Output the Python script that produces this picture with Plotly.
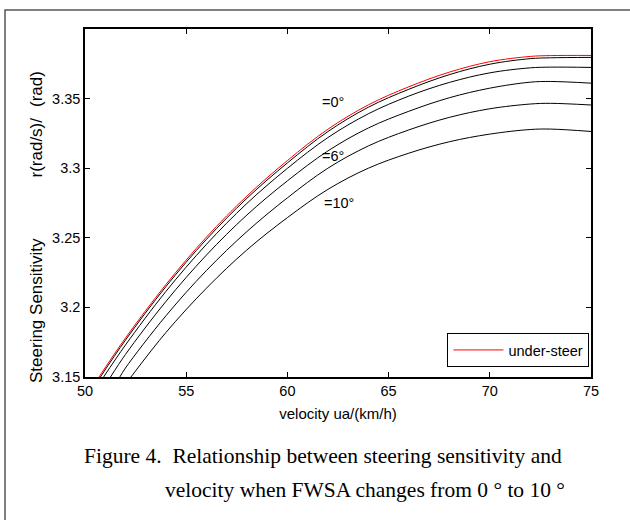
import plotly.graph_objects as go

# ---- data ----
red_x = [50.69, 52, 54, 56, 58, 60, 62, 64, 66, 68, 70, 72, 73, 75]
red_y = [3.150, 3.178, 3.2165, 3.2505, 3.280, 3.3055, 3.328, 3.3455, 3.3585, 3.369, 3.3765, 3.3803, 3.3809, 3.381]

b1_x = [50.76, 52, 54, 56, 58, 60, 62, 64, 66, 68, 70, 72, 73, 75]
b1_y = [3.150, 3.1765, 3.2150, 3.2489, 3.2784, 3.3038, 3.3263, 3.3438, 3.3567, 3.3672, 3.3747, 3.3787, 3.3793, 3.3796]

b2_x = [50.92, 52, 54, 56, 58, 60, 62, 64, 66, 68, 70, 72, 73, 75]
b2_y = [3.150, 3.1730, 3.2115, 3.2453, 3.2747, 3.2999, 3.3220, 3.3391, 3.3518, 3.3616, 3.3685, 3.3721, 3.3726, 3.3724]

b3_x = [51.26, 52, 54, 56, 58, 60, 62, 64, 66, 68, 70, 72, 73, 75]
b3_y = [3.150, 3.1662, 3.2043, 3.2376, 3.2664, 3.2909, 3.3124, 3.3289, 3.3409, 3.3506, 3.3575, 3.3618, 3.3623, 3.3611]

b4_x = [51.72, 52, 54, 56, 58, 60, 62, 64, 66, 68, 70, 72, 73, 75]
b4_y = [3.150, 3.1565, 3.1940, 3.2265, 3.2545, 3.2787, 3.3000, 3.3160, 3.3275, 3.3365, 3.3427, 3.3461, 3.3466, 3.3454]

b5_x = [52.27, 54, 56, 58, 60, 62, 64, 66, 68, 70, 72, 73, 75]
b5_y = [3.150, 3.1820, 3.2138, 3.2413, 3.2645, 3.2848, 3.3000, 3.3108, 3.3190, 3.3245, 3.3278, 3.3281, 3.3264]

x_ticks = [50, 55, 60, 65, 70, 75]
y_ticks = [3.15, 3.2, 3.25, 3.3, 3.35]
y_tick_text = ["3.15", "3.2", "3.25", "3.3", "3.35"]

curve_labels = ["=0°", "=6°", "=10°"]
label_x = [62.24, 62.27, 62.54]
label_y = [3.3473, 3.3087, 3.2752]

legend_name = "under-steer"
x_title = "velocity ua/(km/h)"
y_title_parts = ["Steering Sensitivity", "r(rad/s)/", "(rad)"]
caption1 = "Figure 4.\u00a0\u00a0Relationship between steering sensitivity and"
caption2 = "velocity when FWSA changes from 0 ° to 10 °"

W, H = 630, 520
ML, MR, MT, MB = 85, 39, 29, 143
PW, PH = W - ML - MR, H - MT - MB


def px(xp):
    return (xp - ML) / PW


def py(yp):
    return (H - MB - yp) / PH


fig = go.Figure()
for xs, ys in [(b1_x, b1_y), (b2_x, b2_y), (b3_x, b3_y), (b4_x, b4_y), (b5_x, b5_y)]:
    fig.add_trace(go.Scatter(x=xs, y=ys, mode="lines", line=dict(color="black", width=1, shape="spline"),
                             showlegend=False, hoverinfo="skip"))
fig.add_trace(go.Scatter(x=red_x, y=red_y, mode="lines", name=legend_name,
                         line=dict(color="red", width=1, shape="spline")))

SANS = "Liberation Sans, Arial, sans-serif"
SERIF = "Liberation Serif, Times New Roman, serif"
font_ax = dict(family=SANS, size=14.5, color="black")

annotations = []
for t, xx, yy in zip(curve_labels, label_x, label_y):
    annotations.append(dict(x=xx, y=yy, xref="x", yref="y", text=t, showarrow=False,
                            font=font_ax, xanchor="center", yanchor="middle"))
for t, yc in zip(y_title_parts, [311, 147.5, 89]):
    annotations.append(dict(x=px(36), y=py(yc), xref="paper", yref="paper", text=t, textangle=-90,
                            showarrow=False, font=dict(family=SANS, size=17, color="black"),
                            xanchor="center", yanchor="middle"))
annotations.append(dict(x=px(82), y=py(456), xref="paper", yref="paper", text=caption1, showarrow=False,
                        font=dict(family=SERIF, size=21.5, color="black"),
                        xanchor="left", yanchor="middle"))
annotations.append(dict(x=px(163), y=py(490), xref="paper", yref="paper", text=caption2, showarrow=False,
                        font=dict(family=SERIF, size=21.5, color="black"),
                        xanchor="left", yanchor="middle"))

shapes = [dict(type="rect", xref="paper", yref="paper", x0=px(5), x1=px(645), y0=py(535), y1=py(10),
               line=dict(color="#555555", width=1.5), layer="below")]

fig.update_layout(
    width=W, height=H,
    margin=dict(l=ML, r=MR, t=MT, b=MB, pad=0),
    paper_bgcolor="white", plot_bgcolor="white",
    font=font_ax,
    showlegend=True,
    legend=dict(x=0.997, y=py(333), xanchor="right", yanchor="top", bgcolor="white",
                bordercolor="black", borderwidth=1, font=font_ax, itemwidth=50),
    annotations=annotations,
    shapes=shapes,
    xaxis=dict(range=[50, 75], tickvals=x_ticks, ticks="inside", ticklen=5, tickcolor="black",
               showline=True, linecolor="black", linewidth=1.5, mirror="ticks", showgrid=False,
               zeroline=False, tickfont=font_ax,
               title=dict(text=x_title, font=dict(family=SANS, size=15, color="black"), standoff=10)),
    yaxis=dict(range=[3.15, 3.4], tickvals=y_ticks, ticktext=y_tick_text, ticks="inside", ticklen=5,
               tickcolor="black", showline=True, linecolor="black", linewidth=1.5, mirror="ticks",
               showgrid=False, zeroline=False, tickfont=font_ax),
)

fig.write_html("out.html")
